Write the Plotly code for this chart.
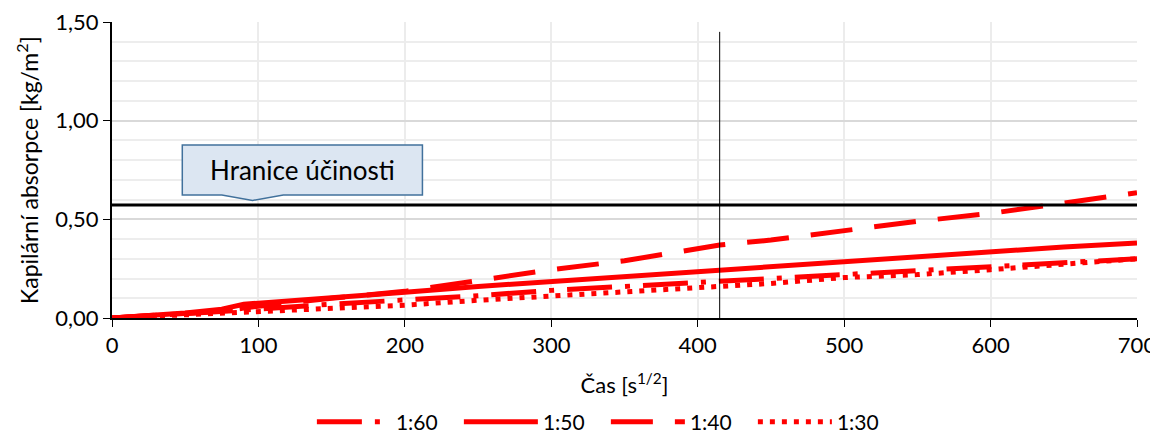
import plotly.graph_objects as go

time_x = [0, 50, 75, 90, 100, 150, 200, 250, 300, 350, 415, 450, 500, 550, 600, 650, 700]
s_160 = [0, 0.02, 0.032, 0.04, 0.045, 0.07, 0.09, 0.113, 0.14, 0.16, 0.18, 0.2, 0.215, 0.235, 0.26, 0.275, 0.30]
s_150 = [0, 0.025, 0.045, 0.07, 0.075, 0.10, 0.13, 0.16, 0.185, 0.21, 0.24, 0.262, 0.285, 0.31, 0.336, 0.36, 0.38]
s_140 = [0, 0.02, 0.035, 0.05, 0.06, 0.10, 0.135, 0.19, 0.245, 0.29, 0.37, 0.395, 0.445, 0.49, 0.53, 0.583, 0.635]
s_130 = [0, 0.015, 0.022, 0.027, 0.03, 0.05, 0.065, 0.09, 0.11, 0.13, 0.16, 0.175, 0.205, 0.22, 0.245, 0.27, 0.30]

limit_y = 0.573
marker_x = 415
callout_label = "Hranice účinosti"

RED = "#ff0000"
FONT = "Lato"

fig = go.Figure()
series = [("1:60", s_160, "45px,13px,5px,13px"), ("1:50", s_150, "solid"),
          ("1:40", s_140, "42px,22px"), ("1:30", s_130, "5px,7px")]
for name, ys, dash in series:
    fig.add_trace(go.Scatter(x=time_x, y=ys, mode="lines", name=name,
                             line=dict(color=RED, width=5, dash=dash)))

# limit line
fig.add_trace(go.Scatter(x=[0, 704], y=[limit_y, limit_y], mode="lines",
                         line=dict(color="black", width=3), showlegend=False,
                         hoverinfo="skip", cliponaxis=False))
# vertical marker
fig.add_trace(go.Scatter(x=[marker_x, marker_x], y=[0, 1.45], mode="lines",
                         line=dict(color="black", width=1), showlegend=False,
                         hoverinfo="skip"))

# callout
fig.add_shape(type="path",
              path="M 48,0.623 L 75,0.623 L 96,0.596 L 117,0.623 L 212,0.623 L 212,0.877 L 48,0.877 Z",
              xref="x", yref="y", fillcolor="#dce6f2",
              line=dict(color="#41719c", width=1.5), layer="above")
fig.add_annotation(x=130, y=0.75, xref="x", yref="y", text=callout_label,
                   showarrow=False, font=dict(family=FONT, size=26, color="black"))

# y-axis title
fig.add_annotation(x=-0.083, y=0.5, xref="paper", yref="paper", xanchor="center", yanchor="middle",
                   text="Kapilární absorpce [kg/m<sup>2</sup>]", textangle=-90, showarrow=False,
                   font=dict(family=FONT, size=23, color="black"))

# page body has an 8px margin, so the figure is 8px smaller than the window
fig.update_layout(
    width=1150, height=429,
    margin=dict(l=104, r=21, t=14, b=119, autoexpand=False),
    plot_bgcolor="white", paper_bgcolor="white",
    separators=", ",
    font=dict(family=FONT, size=22, color="black"),
    showlegend=True,
    legend=dict(orientation="h", x=0.195, xanchor="left", y=-0.352, yanchor="middle",
                font=dict(size=21), itemwidth=74, entrywidth=58, entrywidthmode="pixels",
                traceorder="normal"),
)
fig.update_xaxes(range=[0, 700], dtick=100, showgrid=True, gridcolor="#ececec", gridwidth=1.5,
                 showline=True, linecolor="black", linewidth=2, ticks="outside",
                 ticklen=7, tickcolor="black", zeroline=False, automargin=False,
                 ticklabeloverflow="allow",
                 title=dict(text="Čas [s<sup>1/2</sup>]", font=dict(size=22), standoff=20))
fig.update_yaxes(range=[0, 1.5], dtick=0.5, tickformat=".2f", showgrid=True,
                 gridcolor="#d9d9d9", gridwidth=1.5,
                 minor=dict(dtick=0.1, showgrid=True, gridcolor="#ededed", gridwidth=1.5),
                 showline=True, linecolor="black", linewidth=2, ticks="outside",
                 ticklen=7, tickcolor="black", zeroline=False, automargin=False,
                 ticklabeloverflow="allow")

fig.write_html("out.html")
